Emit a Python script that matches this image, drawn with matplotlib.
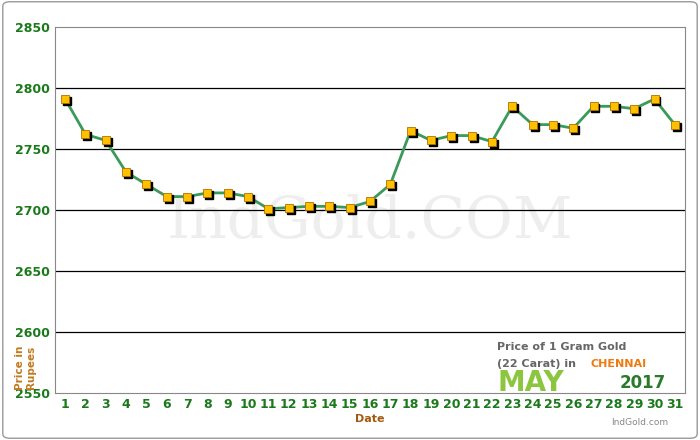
import matplotlib
matplotlib.use("Agg")
import matplotlib.pyplot as plt
import matplotlib.transforms as mtrans
from matplotlib.patches import FancyBboxPatch

days = list(range(1, 32))
prices = [2791, 2762, 2757, 2731, 2721, 2711, 2711, 2714, 2714, 2711,
          2701, 2702, 2703, 2703, 2702, 2707, 2721, 2765, 2757, 2761,
          2761, 2756, 2785, 2770, 2770, 2767, 2785, 2785, 2783, 2791, 2770]
yticks = [2550, 2600, 2650, 2700, 2750, 2800, 2850]

fig = plt.figure(figsize=(7, 4.4), dpi=100)
fig.patches.append(FancyBboxPatch((0.004, 0.004), 0.992, 0.992, boxstyle="round,pad=0,rounding_size=0.01",
                                  transform=fig.transFigure, fill=False, ec="#999999", lw=1))
ax = fig.add_axes([55/700, 1-393/440, 630/700, 366/440])
ax.set_xlim(0.5, 31.5)
ax.set_ylim(2550, 2850)
for y in [2600, 2650, 2700, 2750, 2800]:
    ax.axhline(y, color="black", lw=0.9, zorder=1)
for s in ax.spines.values():
    s.set_color("#888888")
ax.text(16, 2690, "IndGold.COM", fontsize=42, family="DejaVu Serif", color="#eeeeee",
        ha="center", va="center", zorder=0)
ax.plot(days, prices, color="#3a9a5a", lw=2, zorder=2)
off = mtrans.offset_copy(ax.transData, fig=fig, x=1.4, y=-1.4, units="points")
ax.plot(days, prices, ls="none", marker="s", ms=5.5, color="black", transform=off, zorder=3)
ax.plot(days, prices, ls="none", marker="s", ms=5.5, mfc="#ffc000", mec="#b07000", mew=0.6, zorder=4)
ax.set_xticks(days)
ax.set_yticks(yticks)
ax.tick_params(colors="#1a7a1a", labelsize=9, length=0)
for t in ax.get_xticklabels() + ax.get_yticklabels():
    t.set_fontweight("bold"); t.set_color("#1a7a1a")
ax.set_xlabel("Date", color="#a05a10", fontsize=8, fontweight="bold", labelpad=2)
fig.text(0.037, 0.165, "Price in\nRupees", rotation=90, color="#c07a20", fontsize=7.5,
         fontweight="bold", ha="center", va="center", linespacing=1.1)
fig.text(0.71, 0.205, "Price of 1 Gram Gold", color="#666666", fontsize=8, fontweight="bold")
fig.text(0.71, 0.165, "(22 Carat) in ", color="#666666", fontsize=8, fontweight="bold")
fig.text(0.843, 0.165, "CHENNAI", color="#f07a10", fontsize=8, fontweight="bold")
fig.text(0.71, 0.112, "MAY", color="#8cc63f", fontsize=20, fontweight="black")
fig.text(0.885, 0.118, "2017", color="#2a7a2a", fontsize=12, fontweight="bold")
fig.text(0.955, 0.035, "IndGold.com", color="#888888", fontsize=6.5, ha="right")
fig.savefig("out.png", dpi=100)
